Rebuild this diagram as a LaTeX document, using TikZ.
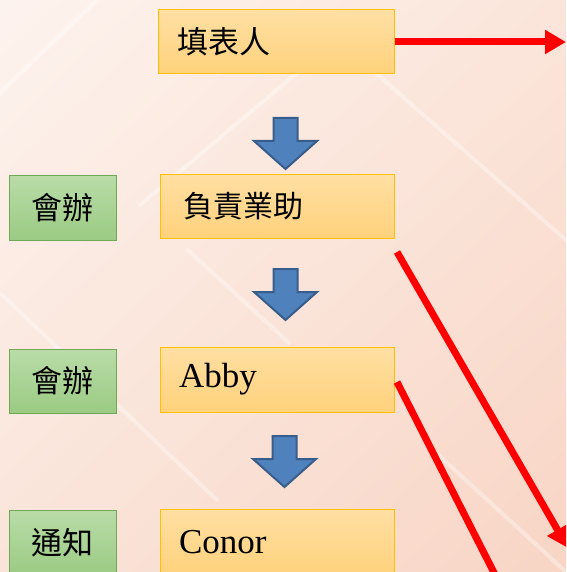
\documentclass[tikz,border=0pt]{standalone}
\usepackage{fontspec}
\setmainfont{Liberation Serif}
\newfontfamily\cjk{Noto Sans CJK TC}
\usetikzlibrary{arrows.meta,shadings}
\definecolor{ybord}{HTML}{FFC000}
\definecolor{ytop}{HTML}{FFDFA3}
\definecolor{ybot}{HTML}{FFD27C}
\definecolor{gbord}{HTML}{71A856}
\definecolor{gtop}{HTML}{B9DCA8}
\definecolor{gbot}{HTML}{9BCB83}
\definecolor{bfill}{HTML}{4F81BD}
\definecolor{bbord}{HTML}{385D8A}
\definecolor{arrred}{HTML}{FF0000}
\definecolor{bgA}{HTML}{FDF3EE}
\definecolor{bgB}{HTML}{FBE5DA}
\definecolor{bgC}{HTML}{FAE4D9}
\definecolor{bgD}{HTML}{F8D5C5}
\tikzset{
  ybox/.style={rectangle, draw=ybord, line width=1pt, top color=ytop, bottom color=ybot,
    minimum height=64pt, inner xsep=19pt, inner ysep=0pt, align=left, anchor=center},
  gbox/.style={rectangle, draw=gbord, line width=1pt, top color=gtop, bottom color=gbot,
    minimum width=107pt, minimum height=65pt, inner sep=0pt, font=\cjk\fontsize{31}{34}\selectfont},
  cjktext/.style={font=\cjk\fontsize{31}{34}\selectfont},
  lattext/.style={font=\fontsize{35}{40}\selectfont},
  redline/.style={draw=arrred, line width=7pt, line cap=butt},
  redtip/.style={-{Triangle[length=21pt,width=23pt]}},
  streak/.style={draw=white, line width=4pt, opacity=0.35, line cap=round},
  downarr/.pic={\draw[fill=bfill, draw=bbord, line width=2pt, line join=miter]
      (-12,0) -- (12,0) -- (12,23) -- (31.5,23) -- (0,51) -- (-31.5,23) -- (-12,23) -- cycle;}
}
\begin{document}
\begin{tikzpicture}[x=1pt,y=-1pt]
\useasboundingbox (0,0) rectangle (566,572);
\clip (0,0) rectangle (566,572);
% background
\shade[upper left=bgA, upper right=bgB, lower left=bgC, lower right=bgD] (0,0) rectangle (566,572);
\draw[streak] (0,93) -- (97,0);
\draw[streak] (361,60) -- (566,240);
\draw[streak] (0,293) -- (217,500);
\draw[streak] (188,250) -- (289,343);
\draw[streak] (140,205) -- (310,62);
\draw[streak] (433,450) -- (566,572);

% boxes
\node[ybox, text width=198pt, cjktext] (b1) at (276,42) {\raisebox{2pt}{填表人}};
\node[ybox, text width=196pt, cjktext, font=\cjk\fontsize{30}{34}\selectfont] (b2) at (277,206) {\hspace*{4pt}\raisebox{2pt}{負責業助}};
\node[ybox, text width=196pt, minimum height=65pt, lattext] (b3) at (277,379.5) {Abby};
\node[ybox, text width=196pt, minimum height=66pt, lattext] (b4) at (277,542) {Conor};

\node[gbox] (g1) at (62.5,207.5) {會辦};
\node[gbox, minimum height=64pt] (g2) at (62.5,381) {會辦};
\node[gbox, minimum height=66pt] (g3) at (62.5,543) {通知};

% blue arrows
\pic at (285.5,118) {downarr};
\pic at (285.5,269) {downarr};
\pic at (284.5,436) {downarr};

% red arrows
\coordinate (e1) at (566,42);
\coordinate (s1) at (397,252);
\coordinate (t1) at (568,548);
\coordinate (s2) at (397,382);
\coordinate (t2) at (513,610);
\draw[redline, redtip] (b1.east) -- (e1);
\draw[redline, redtip] (s1) -- (t1);
\draw[redline, redtip] (s2) -- (t2);
\end{tikzpicture}
\end{document}
